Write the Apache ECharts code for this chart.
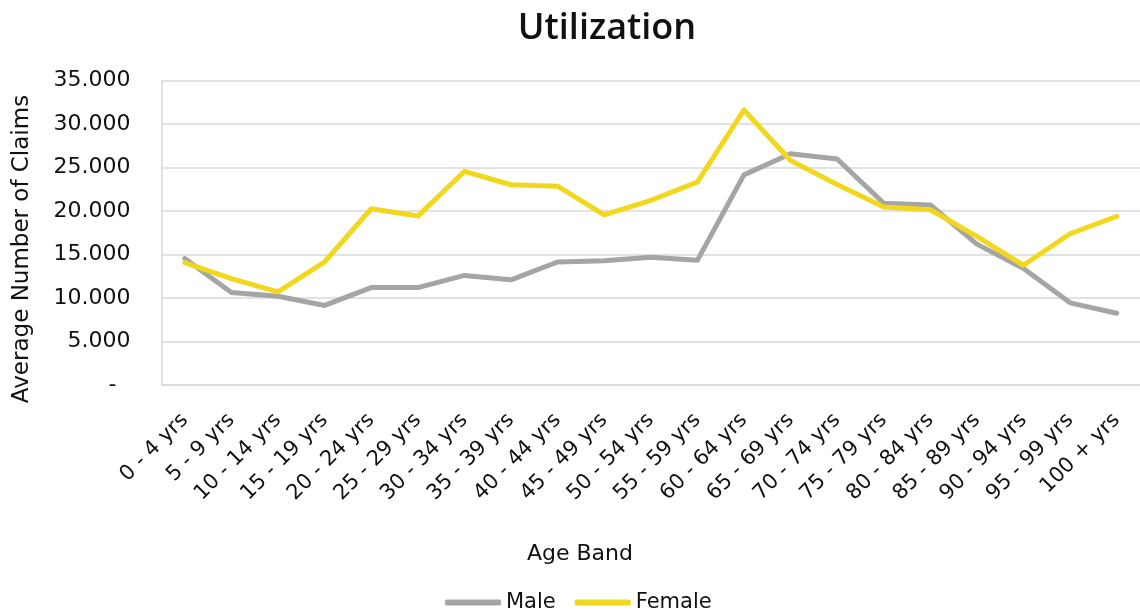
<!DOCTYPE html>
<html>
<head>
<meta charset="utf-8">
<script src="https://cdn.jsdelivr.net/npm/echarts@6/dist/echarts.min.js"></script>
<style>
  html, body { margin: 0; padding: 0; background: #fff; }
  #chart { width: 1140px; height: 612px; }
</style>
</head>
<body>
<div id="chart"></div>
<script>
// Age bands on the category axis
const ageBands = [
  '0 - 4 yrs', '5 - 9 yrs', '10 - 14 yrs', '15 - 19 yrs', '20 - 24 yrs',
  '25 - 29 yrs', '30 - 34 yrs', '35 - 39 yrs', '40 - 44 yrs', '45 - 49 yrs',
  '50 - 54 yrs', '55 - 59 yrs', '60 - 64 yrs', '65 - 69 yrs', '70 - 74 yrs',
  '75 - 79 yrs', '80 - 84 yrs', '85 - 89 yrs', '90 - 94 yrs', '95 - 99 yrs',
  '100 + yrs'
];

// Average number of claims per age band
const maleClaims = [
  14540, 10640, 10200, 9150, 11200, 11200, 12600, 12100, 14150, 14300,
  14700, 14340, 24170, 26600, 26000, 20900, 20700, 16200, 13400, 9450,
  8250
];
const femaleClaims = [
  14080, 12240, 10710, 14150, 20270, 19430, 24560, 23030, 22870, 19580,
  21230, 23330, 31630, 25820, 23060, 20460, 20160, 17100, 13770, 17400,
  19390
];

const seriesNames = ['Male', 'Female'];
const seriesColors = ['#A5A5A5', '#F1D81F'];

const font = 'DejaVu Sans';
const textColor = '#111';

function thousands(v) {
  if (v === 0) return '-  ';
  return String(Math.round(v)).replace(/\B(?=(\d{3})+(?!\d))/g, '.');
}

const chart = echarts.init(document.getElementById('chart'), null, { renderer: 'canvas' });

chart.setOption({
  animation: false,
  backgroundColor: '#ffffff',
  title: {
    text: 'Utilization',
    left: 602,
    top: 6,
    textAlign: 'center',
    textStyle: { fontFamily: 'Open Sans', fontSize: 36, fontWeight: 600, color: textColor }
  },
  legend: {
    data: seriesNames,
    left: 440,
    top: 587,
    itemWidth: 56,
    itemHeight: 6,
    itemGap: 19,
    icon: 'roundRect',
    textStyle: { fontFamily: font, fontSize: 21, color: textColor }
  },
  // axis titles
  graphic: [
    {
      type: 'text',
      x: 22,
      y: 249,
      rotation: Math.PI / 2,
      style: {
        text: 'Average Number of Claims',
        fontFamily: font,
        fontSize: 23,
        fill: textColor,
        textAlign: 'center',
        textVerticalAlign: 'middle'
      }
    },
    {
      type: 'text',
      x: 580,
      y: 554,
      style: {
        text: 'Age Band',
        fontFamily: font,
        fontSize: 22,
        fill: textColor,
        textAlign: 'center',
        textVerticalAlign: 'middle'
      }
    }
  ],
  grid: {
    left: 161.5,
    right: -10.6,
    top: 80.7,
    bottom: 227,
    containLabel: false
  },
  xAxis: {
    type: 'category',
    data: ageBands,
    boundaryGap: true,
    axisLine: { lineStyle: { color: '#D9D9D9', width: 1.5 } },
    axisTick: { show: false },
    axisLabel: {
      rotate: 45,
      interval: 0,
      margin: 32,
      fontFamily: font,
      fontSize: 21,
      color: textColor
    }
  },
  yAxis: {
    type: 'value',
    min: 0,
    max: 35000,
    interval: 5000,
    axisLine: { show: true, lineStyle: { color: '#D9D9D9', width: 1.5 } },
    axisTick: { show: false },
    splitLine: { lineStyle: { color: '#D9D9D9', width: 1.5 } },
    axisLabel: {
      margin: 31,
      fontFamily: font,
      fontSize: 22,
      color: textColor,
      formatter: thousands
    }
  },
  series: [
    {
      name: seriesNames[0],
      type: 'line',
      data: maleClaims,
      symbol: 'none',
      color: seriesColors[0],
      lineStyle: { width: 5, color: seriesColors[0], cap: 'round', join: 'round' },
      z: 2
    },
    {
      name: seriesNames[1],
      type: 'line',
      data: femaleClaims,
      symbol: 'none',
      color: seriesColors[1],
      lineStyle: { width: 5, color: seriesColors[1], cap: 'round', join: 'round' },
      z: 3
    }
  ]
});
</script>
</body>
</html>
